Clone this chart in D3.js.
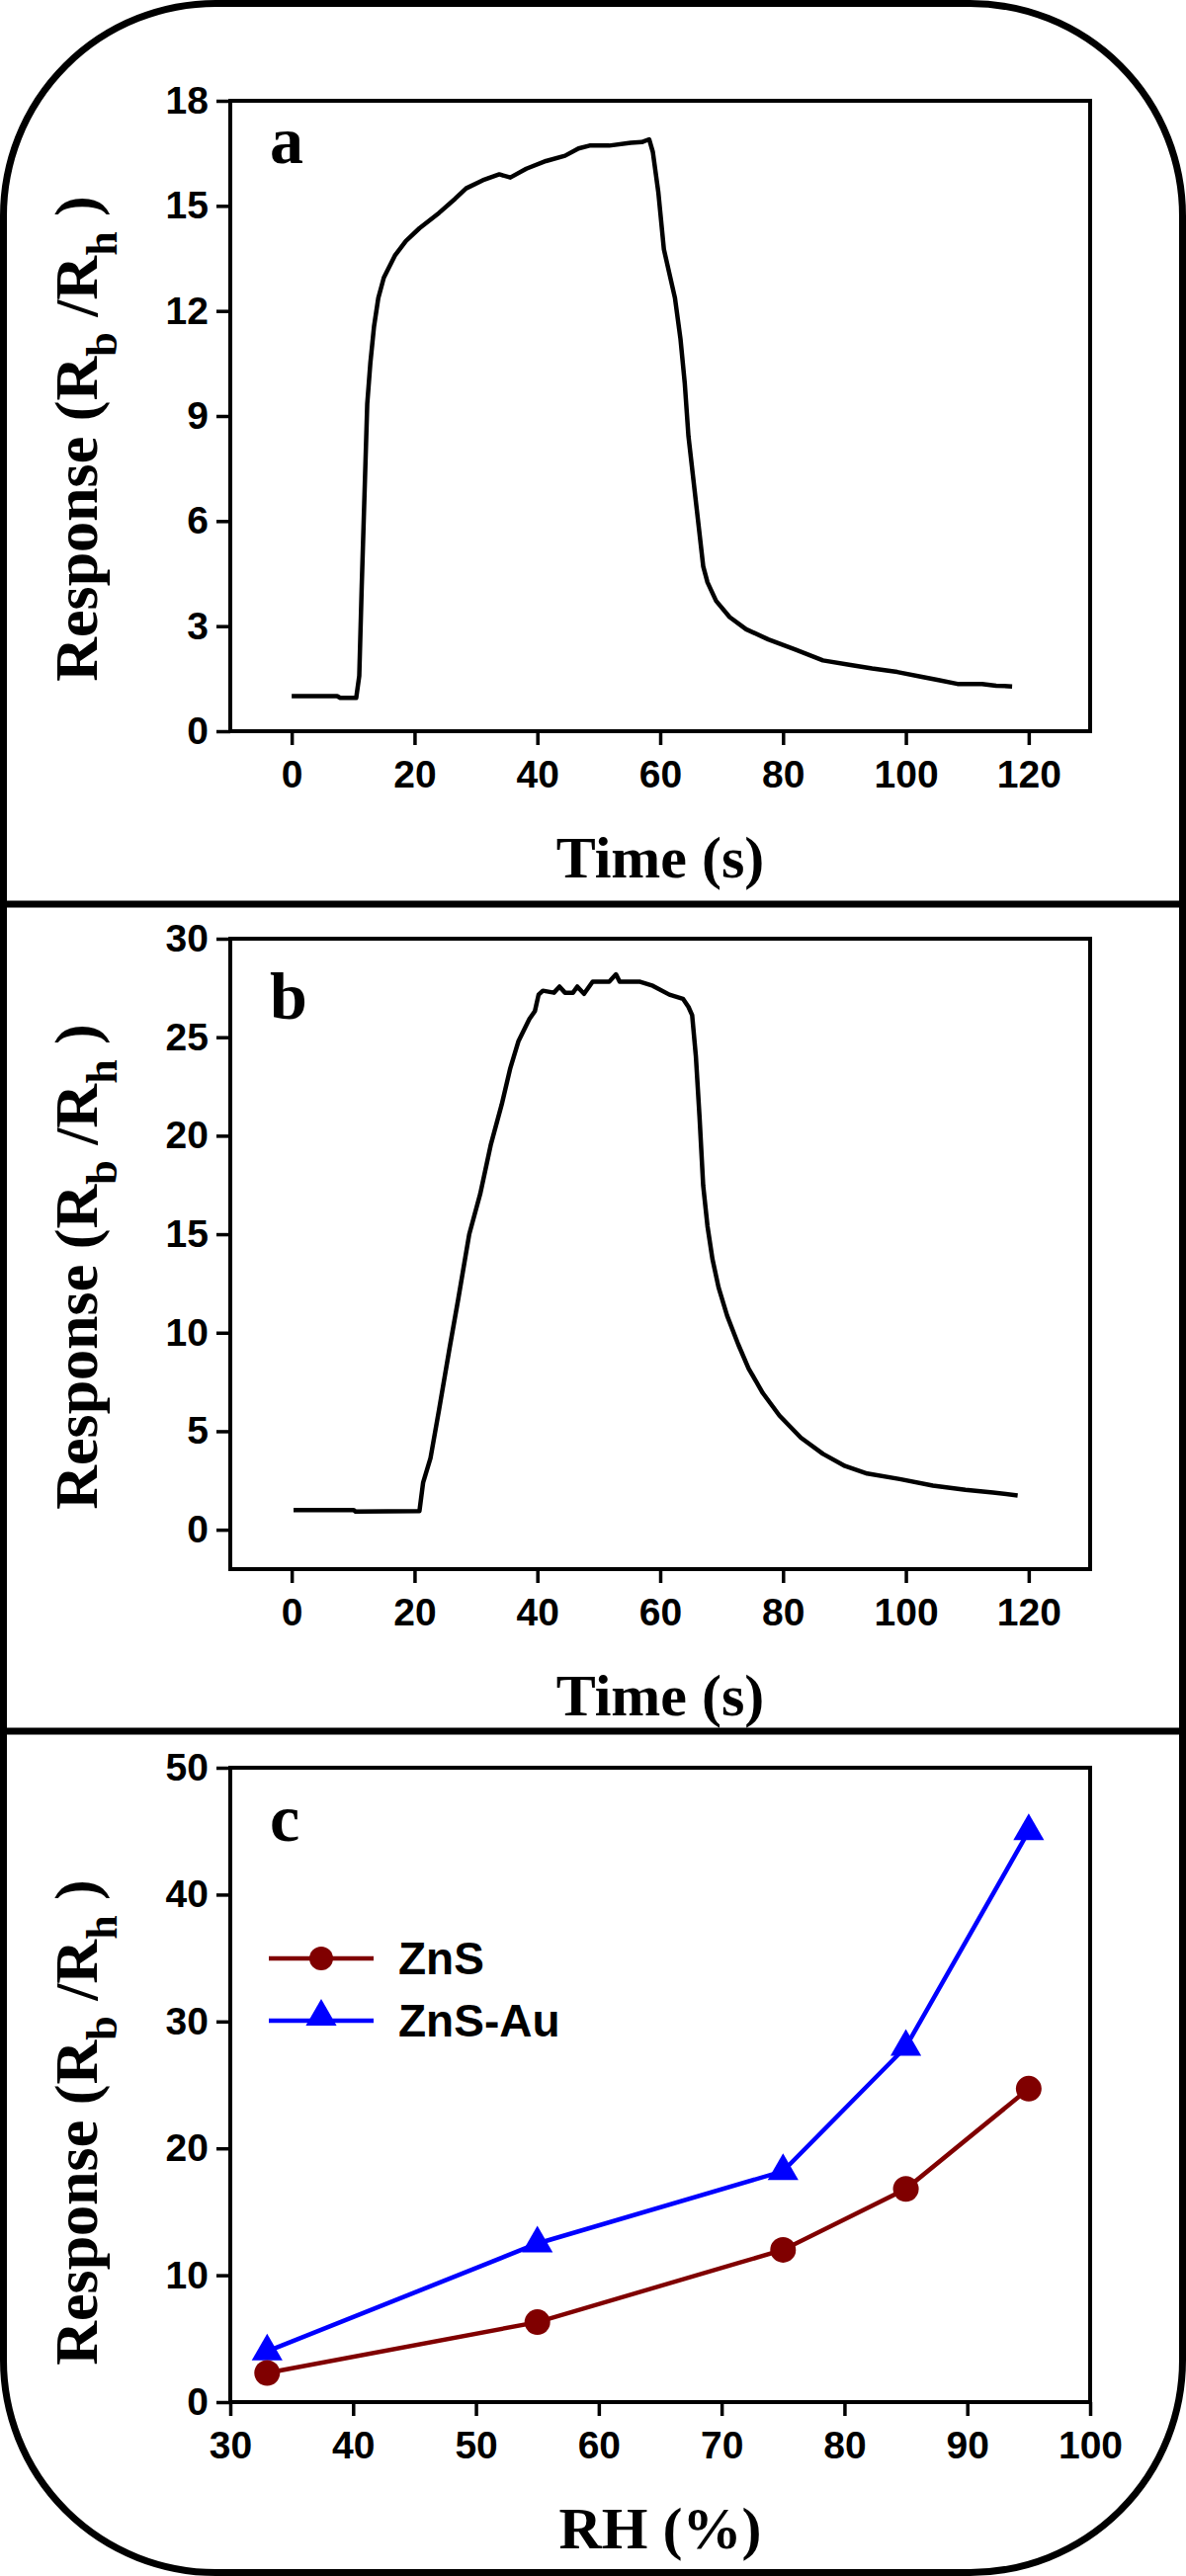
<!DOCTYPE html>
<html>
<head>
<meta charset="utf-8">
<script src="https://cdn.jsdelivr.net/npm/d3@7"></script>
<style>
  body { margin: 0; background: #fff; }
  .tick text { font-family: "Liberation Sans", Arial, sans-serif; font-weight: bold; font-size: 39px; fill: #000; }
  .tick line { stroke: #000; stroke-width: 3.5px; }
  .ttl { font-family: "Liberation Serif", "Times New Roman", serif; font-weight: bold; fill: #000; }
  .leg { font-family: "Liberation Sans", Arial, sans-serif; font-weight: bold; font-size: 46px; fill: #000; }
</style>
</head>
<body>
<svg id="fig" width="1200" height="2607"></svg>
<script>
// panel a: response vs time
const timeA = [0, 7.4, 7.9, 10.5, 11.0, 11.4, 11.9, 12.3, 12.8, 13.4, 14.1, 15.0, 16.8, 18.6, 20.8,
  24.0, 26.6, 28.4, 31.1, 33.8, 35.6, 38.2, 41.4, 44.5, 46.7, 48.5, 51.7, 55.2, 57.0, 58.2,
  58.8, 59.7, 60.6, 61.5, 62.4, 63.3, 64.0, 64.6, 65.5, 66.4, 67.0, 67.7, 69.1, 71.3, 74.0,
  77.6, 82.0, 86.5, 91.0, 94.5, 98.6, 102.6, 105.3, 108.4, 112.4, 114.7, 117.3];
const respA = [1.0, 1.0, 0.95, 0.95, 1.58, 4.13, 7.03, 9.35, 10.5, 11.55, 12.37, 12.95, 13.58, 14.0, 14.36,
  14.8, 15.2, 15.5, 15.73, 15.9, 15.81, 16.06, 16.28, 16.43, 16.64, 16.72, 16.72, 16.8, 16.82, 16.9,
  16.54, 15.38, 13.76, 13.06, 12.37, 11.2, 9.93, 8.42, 7.03, 5.64, 4.71, 4.25, 3.72, 3.26, 2.91,
  2.62, 2.33, 2.02, 1.89, 1.79, 1.69, 1.55, 1.46, 1.35, 1.35, 1.30, 1.28];

// panel b: response vs time
const timeB = [0.3, 10.1, 10.4, 20.8, 21.4, 22.6, 24.0, 25.7, 27.1, 28.9, 30.7, 32.4, 34.2, 35.6, 36.9,
  38.7, 39.6, 40.2, 40.9, 42.7, 43.6, 44.5, 45.8, 46.5, 47.6, 49.0, 51.7, 52.8, 53.4, 56.6,
  58.8, 61.5, 63.7, 64.6, 65.2, 65.8, 66.4, 67.0, 67.7, 68.5, 69.5, 70.9, 72.7, 74.4, 76.7,
  79.4, 82.9, 86.5, 90.1, 93.7, 99.0, 104.4, 109.7, 114.2, 118.2];
const respB = [1.0, 1.0, 0.92, 0.95, 2.4, 3.64, 6.11, 9.21, 11.68, 14.99, 17.05, 19.52, 21.59, 23.44, 24.78,
  25.92, 26.33, 27.16, 27.36, 27.26, 27.57, 27.26, 27.26, 27.57, 27.2, 27.82, 27.82, 28.19, 27.82, 27.82,
  27.61, 27.16, 26.95, 26.54, 26.12, 24.06, 20.97, 17.46, 15.4, 13.75, 12.3, 10.86, 9.41, 8.18, 6.94,
  5.8, 4.67, 3.85, 3.23, 2.85, 2.57, 2.24, 2.03, 1.89, 1.74];

// panel c: response vs relative humidity
const rhLevels = [33, 55, 75, 85, 95];
const znsResp = [2.3, 6.3, 12.0, 16.8, 24.7];
const znsAuResp = [4.0, 12.5, 18.2, 28.0, 45.0];
const seriesNames = ["ZnS", "ZnS-Au"];

// tick labels
const timeTicks = [0, 20, 40, 60, 80, 100, 120];
const yTicksA = [0, 3, 6, 9, 12, 15, 18];
const yTicksB = [0, 5, 10, 15, 20, 25, 30];
const rhTicks = [30, 40, 50, 60, 70, 80, 90, 100];
const yTicksC = [0, 10, 20, 30, 40, 50];

const svg = d3.select("#fig");
const left = 233, right = 1103;

// outer rounded frame and panel dividers
svg.append("rect")
  .attr("x", 3.5).attr("y", 3.5).attr("width", 1193).attr("height", 2600)
  .attr("rx", 215).attr("ry", 215)
  .attr("fill", "none").attr("stroke", "#000").attr("stroke-width", 7);
[915, 1752].forEach(yy => {
  svg.append("line").attr("x1", 0).attr("x2", 1200).attr("y1", yy).attr("y2", yy)
    .attr("stroke", "#000").attr("stroke-width", 7);
});

function drawPanel(p) {
  const x = d3.scaleLinear().domain(p.xDomain).range([left, right]);
  const y = d3.scaleLinear().domain(p.yDomain).range([p.bottom, p.top]);
  const g = svg.append("g");

  g.append("g").attr("transform", `translate(0,${p.bottom})`)
    .call(d3.axisBottom(x).tickValues(p.xTicks).tickSize(14).tickPadding(15).tickFormat(d3.format("d")))
    .call(a => a.select(".domain").remove());
  g.append("g").attr("transform", `translate(${left},0)`)
    .call(d3.axisLeft(y).tickValues(p.yTicks).tickSize(14).tickPadding(8).tickFormat(d3.format("d")))
    .call(a => a.select(".domain").remove());

  g.append("rect")
    .attr("x", left).attr("y", p.top).attr("width", right - left).attr("height", p.bottom - p.top)
    .attr("fill", "none").attr("stroke", "#000").attr("stroke-width", 4);

  // panel letter
  g.append("text").attr("class", "ttl").attr("x", 273).attr("y", p.letterY)
    .style("font-size", "68px").text(p.letter);

  // x title
  g.append("text").attr("class", "ttl").attr("x", (left + right) / 2).attr("y", p.bottom + 148)
    .attr("text-anchor", "middle").style("font-size", "60px").text(p.xTitle);

  // y title with subscripts
  const yt = g.append("text").attr("class", "ttl")
    .attr("transform", `translate(98,${p.yTitleY}) rotate(-90)`)
    .attr("text-anchor", "middle").style("font-size", "62px");
  yt.append("tspan").text("Response (R");
  yt.append("tspan").attr("dy", 20).style("font-size", "44px").text("b");
  yt.append("tspan").attr("dy", -20).text(" /R");
  yt.append("tspan").attr("dy", 20).style("font-size", "44px").text("h");
  yt.append("tspan").attr("dy", -20).text(" )");

  return { g, x, y };
}

// panel a
{
  const { g, x, y } = drawPanel({
    xDomain: [-10, 130], yDomain: [0, 18], top: 102, bottom: 740,
    xTicks: timeTicks, yTicks: yTicksA, letter: "a", letterY: 165,
    xTitle: "Time (s)", yTitleY: 444
  });
  const pts = timeA.map((t, i) => [t, respA[i]]);
  g.append("path").datum(pts)
    .attr("d", d3.line().x(d => x(d[0])).y(d => y(d[1])))
    .attr("fill", "none").attr("stroke", "#000").attr("stroke-width", 4.5).attr("stroke-linejoin", "round");
}

// panel b
{
  const { g, x, y } = drawPanel({
    xDomain: [-10, 130], yDomain: [-2, 30], top: 950, bottom: 1588,
    xTicks: timeTicks, yTicks: yTicksB, letter: "b", letterY: 1031,
    xTitle: "Time (s)", yTitleY: 1282
  });
  const pts = timeB.map((t, i) => [t, respB[i]]);
  g.append("path").datum(pts)
    .attr("d", d3.line().x(d => x(d[0])).y(d => y(d[1])))
    .attr("fill", "none").attr("stroke", "#000").attr("stroke-width", 4.5).attr("stroke-linejoin", "round");
}

// panel c
{
  const { g, x, y } = drawPanel({
    xDomain: [30, 100], yDomain: [0, 50], top: 1789, bottom: 2431,
    xTicks: rhTicks, yTicks: yTicksC, letter: "c", letterY: 1863,
    xTitle: "RH (%)", yTitleY: 2148
  });
  const colors = { "ZnS": "#800000", "ZnS-Au": "#0000ff" };
  const tri = d3.symbol(d3.symbolTriangle).size(420);
  const line = d3.line().x(d => x(d[0])).y(d => y(d[1]));

  const au = rhLevels.map((r, i) => [r, znsAuResp[i]]);
  const zn = rhLevels.map((r, i) => [r, znsResp[i]]);

  g.append("path").datum(au).attr("d", line)
    .attr("fill", "none").attr("stroke", colors["ZnS-Au"]).attr("stroke-width", 4.5);
  g.selectAll(".tri").data(au).enter().append("path")
    .attr("transform", d => `translate(${x(d[0])},${y(d[1])})`)
    .attr("d", tri).attr("fill", colors["ZnS-Au"]);

  g.append("path").datum(zn).attr("d", line)
    .attr("fill", "none").attr("stroke", colors["ZnS"]).attr("stroke-width", 4.5);
  g.selectAll(".dot").data(zn).enter().append("circle")
    .attr("cx", d => x(d[0])).attr("cy", d => y(d[1])).attr("r", 13)
    .attr("fill", colors["ZnS"]);

  // legend
  const legY = [1982, 2045];
  seriesNames.forEach((name, i) => {
    const lg = g.append("g").attr("transform", `translate(272,${legY[i]})`);
    lg.append("line").attr("x1", 0).attr("x2", 106)
      .attr("stroke", colors[name]).attr("stroke-width", 4.5);
    if (i === 0) {
      lg.append("circle").attr("cx", 53).attr("r", 12).attr("fill", colors[name]);
    } else {
      lg.append("path").attr("transform", "translate(53,-4)").attr("d", tri).attr("fill", colors[name]);
    }
    lg.append("text").attr("class", "leg").attr("x", 131).attr("y", 16).text(name);
  });
}
</script>
</body>
</html>
